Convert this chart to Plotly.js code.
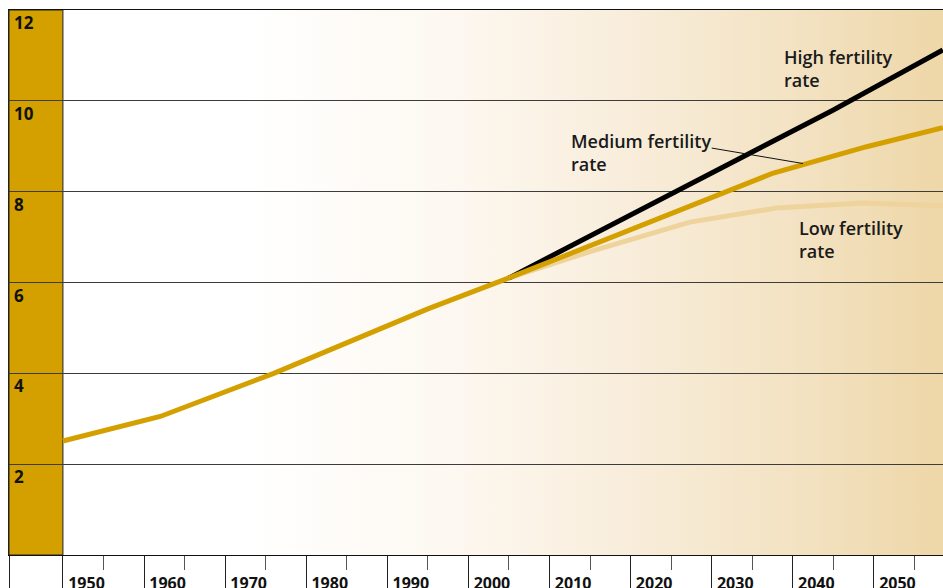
<!DOCTYPE html>
<html>
<head>
<meta charset="utf-8">
<script src="https://cdn.plot.ly/plotly-3.0.1.min.js"></script>
<style>
  html, body { margin: 0; padding: 0; background: #ffffff; }
  #wrap { position: relative; width: 943px; height: 588px; overflow: hidden; }
  #bg { position: absolute; left: 9px; top: 10px; width: 934px; height: 545px;
        background: linear-gradient(to right, #ffffff 0px, #ffffff 240px, #fdf8f1 440px, #f8ecd8 640px, #f3e2c2 790px, #eed7a8 934px); }
  #chart { position: absolute; left: 0; top: 0; width: 943px; height: 588px; }
</style>
</head>
<body>
<div id="wrap"><div id="bg"></div><div id="chart"></div></div>
<script>
// ---- data (world population, billions) ----
const histYears = [1945, 1957, 1971, 1980, 1990, 2000];
const histPop   = [2.51, 3.05, 4.0, 4.66, 5.42, 6.1];

const medYears = [2000, 2032.6, 2044.1, 2053.5];
const medPop   = [6.1, 8.41, 8.99, 9.41];

const highYears = [2000, 2020, 2040, 2053.5];
const highPop   = [6.1, 7.95, 9.8, 11.12];

const lowYears = [2000, 2010, 2022.3, 2033, 2043.6, 2053.5];
const lowPop   = [6.1, 6.68, 7.33, 7.64, 7.75, 7.69];

const xTickYears  = [1950, 1960, 1970, 1980, 1990, 2000, 2010, 2020, 2030, 2040, 2050];
const xTickLabels = ['1950', '1960', '1970', '1980', '1990', '2000', '2010', '2020', '2030', '2040', '2050'];
const yTickVals   = [2, 4, 6, 8, 10, 12];
const yTickLabels = ['2', '4', '6', '8', '10', '12'];

const seriesNames = ['High fertility<br>rate', 'Medium fertility<br>rate', 'Low fertility<br>rate'];
const labelPos = [[2033.7, 11.28], [2007.4, 9.42], [2035.5, 7.5]];
const leader = [[2025.0, 8.96], [2036.25, 8.62]];

// ---- chart ----
const xMin = 1938.35, xMax = 2053.52;
const GOLD = '#d3a000';
const FONT = 'Open Sans, Noto Sans, DejaVu Sans, sans-serif';

const medX = histYears.concat(medYears.slice(1));
const medY = histPop.concat(medPop.slice(1));

const traces = [
  { x: lowYears, y: lowPop, mode: 'lines', line: { color: '#efd39c', width: 5 }, hoverinfo: 'skip' },
  { x: highYears, y: highPop, mode: 'lines', line: { color: '#000000', width: 5 }, hoverinfo: 'skip' },
  { x: medX, y: medY, mode: 'lines', line: { color: GOLD, width: 5 }, hoverinfo: 'skip' }
];

const minorVals = [xMin];
for (let i = 0; i < xTickYears.length; i++) minorVals.push(xTickYears[i] - 5);

const annotations = [];
for (let i = 0; i < yTickVals.length; i++) {
  annotations.push({
    xref: 'paper', yref: 'y', x: 0, y: yTickVals[i], xanchor: 'left', yanchor: 'top',
    xshift: 3, yshift: 1, showarrow: false, text: yTickLabels[i],
    font: { family: FONT, size: 17, color: '#111', weight: 'bold' }
  });
}
for (let i = 0; i < seriesNames.length; i++) {
  annotations.push({
    xref: 'x', yref: 'y', x: labelPos[i][0], y: labelPos[i][1], xanchor: 'left', yanchor: 'top',
    align: 'left', showarrow: false, text: seriesNames[i],
    font: { family: FONT, size: 18, color: '#1a1a1a', weight: 600 }
  });
}

const shapes = [
  { type: 'rect', xref: 'x', yref: 'paper', x0: xMin, x1: 1945, y0: 0, y1: 1,
    fillcolor: GOLD, line: { color: '#222', width: 1 }, layer: 'below' },
  { type: 'line', xref: 'x', yref: 'y', x0: leader[0][0], y0: leader[0][1], x1: leader[1][0], y1: leader[1][1],
    line: { color: '#111', width: 1 } }
];

const layout = {
  width: 943, height: 588,
  margin: { l: 9, r: 0, t: 10, b: 33, pad: 0 },
  paper_bgcolor: 'rgba(0,0,0,0)', plot_bgcolor: 'rgba(0,0,0,0)',
  showlegend: false,
  xaxis: {
    range: [xMin, xMax], showgrid: false, zeroline: false,
    showline: true, linecolor: '#111', linewidth: 1, mirror: true,
    tickmode: 'array', tickvals: xTickYears, ticktext: xTickLabels,
    ticks: 'outside', ticklen: 14, tickwidth: 1, tickcolor: '#555',
    ticklabelshift: -17, ticklabelstandoff: 0,
    tickfont: { family: FONT, size: 16, color: '#111', weight: 'bold' },
    minor: { tickmode: 'array', tickvals: minorVals, ticks: 'outside', ticklen: 33, tickwidth: 1, tickcolor: '#222', showgrid: false }
  },
  yaxis: {
    range: [0, 12], tickmode: 'array', tickvals: yTickVals, showticklabels: false,
    showgrid: true, gridcolor: '#3c3c3c', gridwidth: 1, zeroline: false,
    showline: true, linecolor: '#222', linewidth: 1, ticks: ''
  },
  annotations: annotations,
  shapes: shapes
};

Plotly.newPlot('chart', traces, layout, { displayModeBar: false, staticPlot: true });
</script>
</body>
</html>
